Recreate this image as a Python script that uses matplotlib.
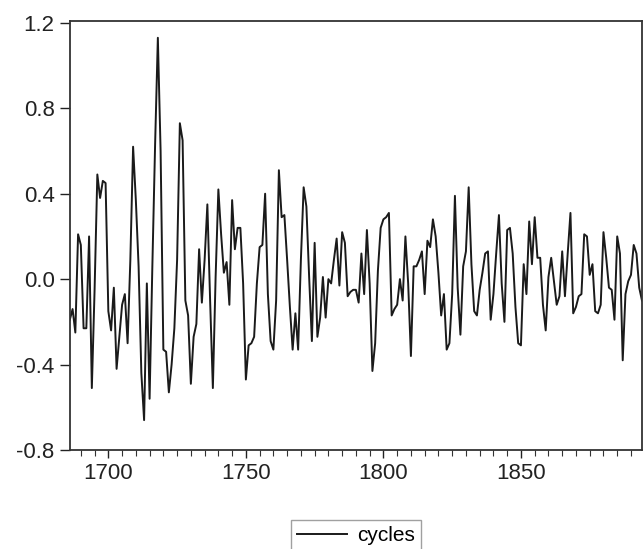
import numpy as np
import matplotlib
matplotlib.use('Agg')
import matplotlib.pyplot as plt
from matplotlib.ticker import MultipleLocator

plt.rcParams['font.family'] = ['Liberation Sans', 'DejaVu Sans']

start_year = 1686
cycles = [
    -0.19, -0.14, -0.25, 0.21, 0.16, -0.23, -0.23, 0.20, -0.51, -0.05,   # 1686-1695
    0.49, 0.38, 0.46, 0.45, -0.15, -0.24, -0.04, -0.42, -0.27, -0.12,    # 1696-1705
    -0.07, -0.30, 0.09, 0.62, 0.37, 0.06, -0.44, -0.66, -0.02, -0.56,    # 1706-1715
    0.06, 0.63, 1.13, 0.60, -0.33, -0.34, -0.53, -0.40, -0.23, 0.09,     # 1716-1725
    0.73, 0.65, -0.10, -0.17, -0.49, -0.27, -0.21, 0.14, -0.11, 0.09,    # 1726-1735
    0.35, -0.10, -0.51, 0.01, 0.42, 0.21, 0.03, 0.08, -0.12, 0.37,       # 1736-1745
    0.14, 0.24, 0.24, -0.02, -0.47, -0.31, -0.30, -0.27, -0.02, 0.15,    # 1746-1755
    0.16, 0.40, -0.07, -0.29, -0.33, -0.10, 0.51, 0.29, 0.30, 0.09,      # 1756-1765
    -0.13, -0.33, -0.16, -0.33, 0.09, 0.43, 0.34, 0.01, -0.29, 0.17,     # 1766-1775
    -0.27, -0.18, 0.01, -0.18, 0.00, -0.02, 0.09, 0.19, -0.03, 0.22,     # 1776-1785
    0.17, -0.08, -0.06, -0.05, -0.05, -0.11, 0.12, -0.07, 0.23, -0.02,   # 1786-1795
    -0.43, -0.30, 0.04, 0.24, 0.28, 0.29, 0.31, -0.17, -0.14, -0.12,     # 1796-1805
    0.00, -0.10, 0.20, -0.02, -0.36, 0.06, 0.06, 0.09, 0.13, -0.07,      # 1806-1815
    0.18, 0.15, 0.28, 0.20, 0.03, -0.17, -0.07, -0.33, -0.30, -0.07,     # 1816-1825
    0.39, -0.04, -0.26, 0.06, 0.13, 0.43, 0.07, -0.15, -0.17, -0.05,     # 1826-1835
    0.03, 0.12, 0.13, -0.19, -0.07, 0.12, 0.30, -0.02, -0.20, 0.23,      # 1836-1845
    0.24, 0.12, -0.13, -0.30, -0.31, 0.07, -0.07, 0.27, 0.07, 0.29,      # 1846-1855
    0.10, 0.10, -0.12, -0.24, 0.01, 0.10, -0.01, -0.12, -0.08, 0.13,     # 1856-1865
    -0.08, 0.12, 0.31, -0.16, -0.13, -0.08, -0.07, 0.21, 0.20, 0.02,     # 1866-1875
    0.07, -0.15, -0.16, -0.12, 0.22, 0.10, -0.04, -0.05, -0.19, 0.20,    # 1876-1885
    0.12, -0.38, -0.07, -0.01, 0.02, 0.16, 0.12, -0.04, -0.10,           # 1886-1894
]
years = np.arange(start_year, start_year + len(cycles))

fig = plt.figure(figsize=(6.43, 5.49), dpi=100)
ax = fig.add_axes([0.1086, 0.1803, 0.8898, 0.782])

line, = ax.plot(years, cycles, color='#1a1a1a', lw=1.4, label='cycles')

ax.set_xlim(years[0], years[-1])
ax.set_ylim(-0.8, 1.21)
ax.set_yticks([-0.8, -0.4, 0.0, 0.4, 0.8, 1.2])
ax.set_yticklabels(['-0.8', '-0.4', '0.0', '0.4', '0.8', '1.2'])
ax.xaxis.set_major_locator(MultipleLocator(50))
ax.xaxis.set_minor_locator(MultipleLocator(5))

ax.tick_params(axis='both', which='major', labelsize=16, colors='#222222',
               direction='out', width=1.0)
ax.tick_params(axis='x', which='major', length=6, pad=3)
ax.tick_params(axis='y', which='major', length=7, pad=4)
ax.tick_params(axis='x', which='minor', direction='out', length=4, width=0.8,
               colors='#333333')
for sp in ax.spines.values():
    sp.set_color('#333333')
    sp.set_linewidth(1.3)

# legend box sits below the axis, centred under the plot
leg = fig.legend(handles=[line], loc='upper center',
                 bbox_to_anchor=(0.5537, 0.072), fontsize=15,
                 frameon=True, fancybox=False, edgecolor='#888888',
                 handlelength=2.4, borderpad=0.3, handletextpad=0.5)
leg.get_frame().set_linewidth(1.0)

fig.savefig('out.png', dpi=100)
